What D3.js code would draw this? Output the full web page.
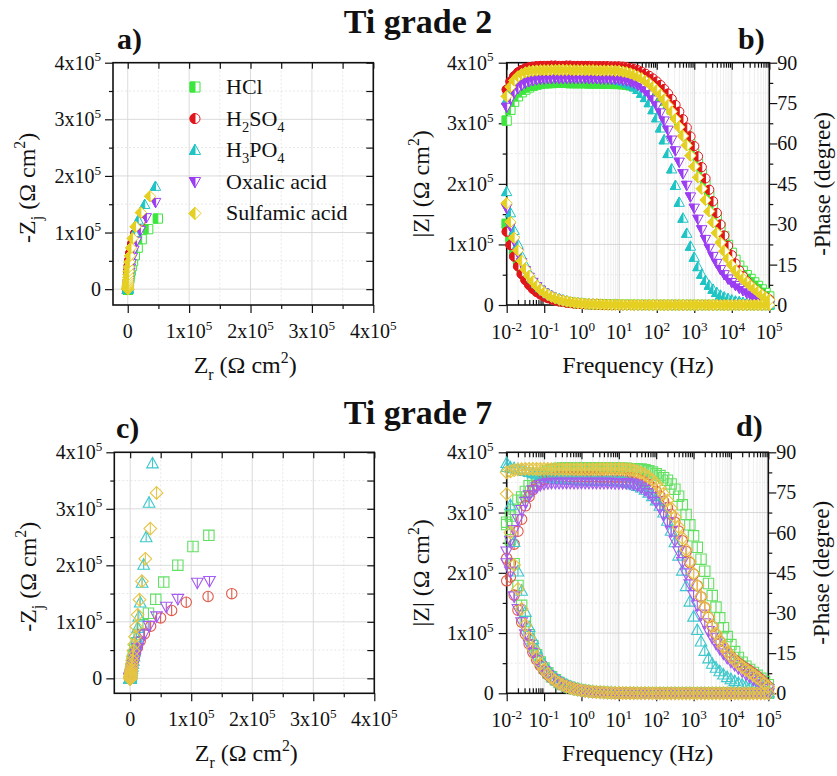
<!DOCTYPE html>
<html><head><meta charset="utf-8">
<script src="https://cdn.jsdelivr.net/npm/d3@7"></script>
<style>body{margin:0;background:#fff}svg{display:block}text{font-family:"Liberation Serif","Times New Roman",serif;fill:#111}</style>
</head><body><svg id="c" width="837" height="776"></svg>
<script>
// ---------------- DATA ----------------
const freq = [0.01,0.0126,0.0158,0.02,0.0251,0.0316,0.0398,0.0501,0.0631,0.0794,
0.1,0.126,0.158,0.2,0.251,0.316,0.398,0.501,0.631,0.794,
1,1.26,1.58,2,2.51,3.16,3.98,5.01,6.31,7.94,
10,12.6,15.8,20,25.1,31.6,39.8,50.1,63.1,79.4,
100,126,158,200,251,316,398,501,631,794,
1000,1259,1585,1995,2512,3162,3981,5012,6310,7943,
10000,12589,15849,19953,25119,31623,39811,50119,63096,79433,
100000];
const seriesNames = ["HCl","H2SO4","H3PO4","Oxalic acid","Sulfamic acid"];
const zTicks = [0,1e5,2e5,3e5,4e5];
const zMinorTicks = [0.5e5,1.5e5,2.5e5,3.5e5];
const phaseTicks = [0,15,30,45,60,75,90];
const phaseMinorTicks = [7.5,22.5,37.5,52.5,67.5,82.5];
const freqTicks = [1e-2,1e-1,1e0,1e1,1e2,1e3,1e4,1e5];

// Ti grade 2 : phase (degree)
const g2Phase_HCl = [68.5,72.5,75.5,77.5,79.0,80.0,80.8,81.4,81.8,82.1,
82.3,82.4,82.4,82.5,82.5,82.5,82.5,82.4,82.4,82.4,
82.4,82.4,82.3,82.3,82.3,82.3,82.2,82.2,82.2,82.1,
82.1,82.0,81.8,81.6,81.3,81.0,80.6,80.1,79.5,78.8,
78.0,77.0,75.8,74.4,72.7,70.7,68.4,65.8,62.9,59.7,
56.2,52.5,48.6,44.6,40.6,36.6,32.7,29.0,25.5,22.3,
19.4,16.8,14.6,12.7,11.1,9.7,8.4,7.1,5.8,4.5,
3.2];
const g2Phase_H2SO4 = [80.0,83.0,85.0,86.4,87.3,87.9,88.3,88.5,88.7,88.8,
88.8,88.8,88.9,88.9,88.8,88.8,88.9,88.9,88.8,88.8,
88.8,88.8,88.8,88.7,88.7,88.7,88.7,88.7,88.6,88.6,
88.6,88.5,88.3,88.0,87.6,87.2,86.6,85.9,85.1,84.1,
83.0,81.7,80.2,78.5,76.5,74.3,71.8,69.0,65.9,62.6,
59.0,55.2,51.2,47.0,42.8,38.5,34.2,29.9,25.8,22.0,
18.5,15.4,12.8,10.6,8.8,7.2,5.9,4.8,3.8,2.9,
2.1];
const g2Phase_H3PO4 = [76.0,79.5,82.0,83.5,84.4,85.0,85.3,85.5,85.6,85.6,
85.7,85.7,85.7,85.7,85.7,85.6,85.6,85.6,85.6,85.5,
85.5,85.4,85.3,85.2,85.1,85.0,84.8,84.5,84.2,83.8,
83.4,83.0,82.4,81.8,81.0,80.0,78.6,77.0,75.1,72.5,
69.5,65.7,61.3,56.2,50.5,44.4,38.1,32.2,26.6,21.8,
17.7,14.2,11.4,9.1,7.3,5.8,4.6,3.6,2.9,2.3,
1.8,1.4,1.2,0.9,0.7,0.6,0.5,0.4,0.3,0.3,
0.2];
const g2Phase_Oxalic = [73.5,76.5,78.8,80.4,81.6,82.4,83.0,83.4,83.7,83.9,
84.0,84.1,84.1,84.2,84.2,84.2,84.2,84.2,84.2,84.2,
84.2,84.2,84.1,84.1,84.1,84.0,84.0,84.0,83.9,83.9,
83.8,83.6,83.3,82.9,82.4,81.7,80.8,79.6,78.1,76.2,
74.0,71.4,68.4,65.0,61.3,57.3,53.1,48.8,44.5,40.2,
36.0,31.9,28.0,24.4,21.1,18.1,15.5,13.2,11.3,9.7,
8.4,7.3,6.3,5.4,4.5,3.7,2.9,2.2,1.5,0.9,
0.4];
const g2Phase_Sulfamic = [77.5,81.0,83.4,84.9,85.8,86.4,86.8,87.0,87.1,87.2,
87.2,87.2,87.3,87.3,87.3,87.3,87.3,87.3,87.2,87.2,
87.2,87.2,87.2,87.2,87.1,87.1,87.1,87.1,87.1,87.0,
87.0,86.7,86.4,86.0,85.5,84.9,84.2,83.3,82.3,81.1,
79.7,78.1,76.3,74.2,71.8,69.1,66.1,62.8,59.3,55.5,
51.5,47.4,43.2,39.0,34.8,30.7,26.8,23.2,20.0,17.2,
14.8,12.8,11.1,9.7,8.4,7.2,6.0,4.9,3.8,2.8,
1.9];

// Ti grade 2 : |Z| (kOhm cm2)
const g2ModZ_HCl = [134,111,91,75,61,50,41,33,27,22,
18.0,14.6,11.8,9.6,7.8,6.3,5.1,4.2,3.4,2.7,
2.2,1.8,1.45,1.18,0.96,0.78,0.63,0.51,0.42,0.34,
0.28,0.23,0.19,0.155,0.127,0.105,0.087,0.073,0.062,0.054,
0.048,0.043,0.04,0.037,0.035,0.033,0.032,0.031,0.03,0.03,
0.03,0.03,0.03,0.03,0.03,0.03,0.03,0.03,0.03,0.03,
0.03,0.03,0.03,0.03,0.03,0.03,0.03,0.03,0.03,0.03,
0.03];
const g2ModZ_H2SO4 = [121,99,80,64,51,41,33,26.5,21.5,17.4,
14.0,11.3,9.2,7.4,6.0,4.9,3.9,3.2,2.6,2.1,
1.7,1.38,1.12,0.9,0.73,0.59,0.48,0.39,0.32,0.26,
0.21,0.17,0.14,0.115,0.095,0.08,0.068,0.058,0.05,0.044,
0.04,0.037,0.034,0.032,0.03,0.029,0.028,0.027,0.026,0.026,
0.025,0.025,0.025,0.025,0.025,0.025,0.025,0.025,0.025,0.025,
0.025,0.025,0.025,0.025,0.025,0.025,0.025,0.025,0.025,0.025,
0.024];
const g2ModZ_H3PO4 = [187,152,123,100,81,66,53,43,35,28.5,
23.0,18.7,15.2,12.3,10.0,8.1,6.6,5.3,4.3,3.5,
2.8,2.3,1.85,1.5,1.22,0.99,0.8,0.65,0.53,0.43,
0.35,0.28,0.23,0.19,0.155,0.127,0.105,0.087,0.073,0.062,
0.054,0.048,0.043,0.04,0.037,0.035,0.033,0.032,0.031,0.03,
0.03,0.03,0.03,0.03,0.03,0.03,0.03,0.03,0.03,0.03,
0.03,0.03,0.03,0.03,0.03,0.03,0.03,0.03,0.03,0.03,
0.03];
const g2ModZ_Oxalic = [160,130,106,86,70,57,46,37.5,30.5,24.7,
20.0,16.2,13.2,10.7,8.7,7.0,5.7,4.6,3.8,3.1,
2.5,2.0,1.63,1.32,1.07,0.87,0.7,0.57,0.46,0.37,
0.3,0.245,0.2,0.16,0.13,0.107,0.088,0.073,0.062,0.053,
0.047,0.042,0.038,0.035,0.033,0.031,0.03,0.029,0.028,0.028,
0.028,0.028,0.028,0.028,0.028,0.028,0.028,0.028,0.028,0.028,
0.028,0.028,0.028,0.028,0.028,0.028,0.028,0.028,0.028,0.028,
0.028];
const g2ModZ_Sulfamic = [168,137,111,90,73,59,48,39,31.5,25.5,
20.7,16.8,13.6,11.0,8.9,7.2,5.9,4.8,3.9,3.1,
2.5,2.05,1.66,1.34,1.09,0.88,0.72,0.58,0.47,0.38,
0.31,0.25,0.2,0.165,0.135,0.11,0.09,0.076,0.065,0.056,
0.05,0.045,0.041,0.038,0.036,0.034,0.033,0.032,0.031,0.03,
0.03,0.03,0.03,0.03,0.03,0.03,0.03,0.03,0.03,0.03,
0.03,0.03,0.03,0.03,0.03,0.03,0.03,0.03,0.03,0.03,
0.03];

// Ti grade 7 : phase (degree)
const g7Phase_HCl = [63.0,66.2,68.7,72.1,73.3,75.4,77.5,79.2,80.6,81.7,
82.5,83.1,83.5,83.8,84.0,84.1,84.2,84.2,84.2,84.2,
84.2,84.2,84.2,84.2,84.2,84.2,84.1,84.1,84.1,84.1,
84.0,84.0,84.0,83.9,83.9,83.8,83.8,83.5,83.1,82.6,
82.0,81.3,80.5,79.6,78.2,76.2,73.6,70.4,66.8,62.9,
58.8,54.5,50.1,45.6,41.0,36.5,32.2,28.2,24.5,21.2,
18.2,15.6,13.4,11.6,10.1,8.9,7.8,6.7,5.6,4.4,
3.2];
const g7Phase_H2SO4 = [42.0,48.6,55.7,60.5,65.0,70.0,73.5,76.0,77.8,79.0,
79.8,80.3,80.6,80.7,80.8,80.8,80.8,80.8,80.8,80.8,
80.8,80.8,80.8,80.8,80.8,80.7,80.7,80.7,80.7,80.7,
80.7,80.7,80.6,80.5,80.4,80.1,79.6,78.9,78.0,76.8,
75.4,73.7,71.7,69.4,66.8,63.9,60.6,57.0,53.0,48.8,
44.5,40.2,36.0,32.0,28.3,25.0,22.0,19.4,17.2,15.3,
13.7,12.4,11.3,10.3,9.4,8.5,7.5,6.4,5.2,3.9,
2.5];
const g7Phase_H3PO4 = [84.5,84.3,84.0,83.7,83.4,83.0,82.6,82.2,81.8,81.4,
81.0,80.7,80.4,80.2,80.0,79.9,79.8,79.7,79.6,79.5,
79.5,79.5,79.4,79.4,79.4,79.3,79.3,79.3,79.3,79.2,
79.2,79.0,78.8,78.4,78.0,77.4,76.8,76.0,74.9,73.6,
72.0,70.0,67.5,64.4,60.7,56.4,51.4,45.8,40.0,34.2,
28.6,23.6,19.3,15.8,13.0,11.0,9.5,8.2,7.0,6.0,
5.2,4.5,3.8,3.2,2.6,2.1,1.7,1.3,1.0,0.7,
0.5];
const g7Phase_Oxalic = [53.0,57.0,61.0,65.0,68.5,71.5,74.0,75.8,77.0,77.8,
78.3,78.5,78.6,78.6,78.6,78.6,78.6,78.6,78.6,78.6,
78.6,78.6,78.6,78.6,78.6,78.6,78.6,78.6,78.6,78.5,
78.5,78.5,78.5,78.4,78.1,77.6,76.9,76.0,74.8,73.3,
71.5,69.3,66.8,63.9,60.6,57.0,53.1,49.0,44.8,40.7,
36.7,32.9,29.4,26.2,23.3,20.8,18.6,16.6,14.9,13.3,
11.9,10.6,9.4,8.3,7.2,6.2,5.2,4.3,3.4,2.5,
1.6];
const g7Phase_Sulfamic = [82.5,82.9,83.3,83.6,83.7,83.8,83.8,83.8,83.8,83.8,
83.8,83.8,83.7,83.7,83.7,83.7,83.7,83.7,83.7,83.7,
83.7,83.7,83.7,83.7,83.7,83.8,83.8,83.8,83.8,83.8,
83.8,83.8,83.7,83.6,83.3,82.9,82.4,81.7,80.8,79.7,
78.3,76.6,74.5,72.0,69.1,65.8,62.1,58.0,53.7,49.2,
44.7,40.3,36.1,32.1,28.5,25.2,22.3,19.7,17.4,15.4,
13.7,12.2,10.9,9.8,8.8,7.8,6.8,5.8,4.7,3.6,
2.4];

// Ti grade 7 : |Z| (kOhm cm2)
const g7ModZ_HCl = [284,255,215,179,146,119,97,79,64,52,
42,34,27.5,22.3,18.0,14.6,11.8,9.6,7.8,6.3,
5.1,4.1,3.3,2.7,2.2,1.8,1.45,1.18,0.96,0.78,
0.63,0.51,0.42,0.34,0.28,0.23,0.19,0.16,0.13,0.11,
0.1,0.09,0.08,0.07,0.065,0.06,0.055,0.05,0.048,0.046,
0.044,0.043,0.042,0.042,0.041,0.041,0.04,0.04,0.04,0.04,
0.04,0.04,0.04,0.04,0.04,0.04,0.04,0.04,0.04,0.04,
0.04];
const g7ModZ_H2SO4 = [224,193,163,138,118,98,82,68,56,46,
38,31,25.5,21,17,14,11.4,9.3,7.6,6.2,
5.0,4.1,3.3,2.7,2.2,1.8,1.45,1.18,0.96,0.78,
0.63,0.51,0.42,0.34,0.28,0.23,0.19,0.16,0.13,0.11,
0.1,0.09,0.08,0.07,0.065,0.06,0.055,0.05,0.048,0.046,
0.044,0.043,0.042,0.042,0.041,0.041,0.04,0.04,0.04,0.04,
0.04,0.04,0.04,0.04,0.04,0.04,0.04,0.04,0.04,0.04,
0.04];
const g7ModZ_H3PO4 = [382,312,251,202,170,135,110,90,73,59,
48,39,31.5,25.5,20.7,16.7,13.6,11.0,8.9,7.2,
5.8,4.7,3.8,3.1,2.5,2.0,1.65,1.34,1.08,0.88,
0.71,0.58,0.47,0.38,0.31,0.25,0.2,0.17,0.14,0.11,
0.09,0.08,0.07,0.065,0.06,0.055,0.05,0.048,0.046,0.045,
0.044,0.043,0.042,0.042,0.041,0.041,0.04,0.04,0.04,0.04,
0.04,0.04,0.04,0.04,0.04,0.04,0.04,0.04,0.04,0.04,
0.04];
const g7ModZ_Oxalic = [216,202,161,140,118,98,81,67,55,45,
37,30,24.5,20,16.3,13.3,10.8,8.8,7.2,5.8,
4.7,3.8,3.1,2.5,2.0,1.65,1.34,1.08,0.88,0.71,
0.58,0.47,0.38,0.31,0.25,0.2,0.17,0.14,0.12,0.1,
0.09,0.08,0.07,0.065,0.06,0.055,0.05,0.048,0.046,0.045,
0.044,0.043,0.042,0.042,0.041,0.041,0.04,0.04,0.04,0.04,
0.04,0.04,0.04,0.04,0.04,0.04,0.04,0.04,0.04,0.04,
0.04];
const g7ModZ_Sulfamic = [331,267,213,173,140,113,92,74,60,49,
39.5,32,26,21,17,13.8,11.2,9.1,7.3,5.9,
4.8,3.9,3.2,2.6,2.1,1.7,1.37,1.11,0.9,0.73,
0.59,0.48,0.39,0.32,0.26,0.21,0.17,0.14,0.12,0.1,
0.09,0.08,0.07,0.065,0.06,0.055,0.05,0.048,0.046,0.045,
0.044,0.043,0.042,0.042,0.041,0.041,0.04,0.04,0.04,0.04,
0.04,0.04,0.04,0.04,0.04,0.04,0.04,0.04,0.04,0.04,
0.04];

const grade2Phase = [g2Phase_HCl,g2Phase_H2SO4,g2Phase_H3PO4,g2Phase_Oxalic,g2Phase_Sulfamic];
const grade2ModZ  = [g2ModZ_HCl,g2ModZ_H2SO4,g2ModZ_H3PO4,g2ModZ_Oxalic,g2ModZ_Sulfamic];
const grade7Phase = [g7Phase_HCl,g7Phase_H2SO4,g7Phase_H3PO4,g7Phase_Oxalic,g7Phase_Sulfamic];
const grade7ModZ  = [g7ModZ_HCl,g7ModZ_H2SO4,g7ModZ_H3PO4,g7ModZ_Oxalic,g7ModZ_Sulfamic];

// ---------------- STYLE ----------------
const shapes = ["square","circle","up","down","diamond"];
const colors2 = ["#3de63d","#e0161b","#1fc4c4","#9b3df2","#e5cf20"];
const colors7 = ["#62e062","#e05a4a","#3ec8cc","#a45cf0","#e6c444"];

const svg = d3.select("#c");

function rich(t, parts, fs){
  let shift = 0;
  parts.forEach(p => {
    const ts = t.append("tspan").text(p.t);
    const target = p.sup ? -0.42*fs : (p.sub ? 0.28*fs : 0);
    const dy = target - shift;
    if (dy !== 0) ts.attr("dy", dy);
    if (p.sup || p.sub) ts.attr("font-size", fs*0.66);
    shift = target;
  });
  return t;
}
function zLabelParts(v){
  if (v === 0) return [{t:"0"}];
  return [{t:(v/1e5)+"x10"},{t:"5",sup:1}];
}

function markerPaths(type, s){
  const a=s*1.18, b=s*0.85, w=s*1.12, d=s*1.22;
  switch(type){
    case "square": return {full:`M${-s},${-s}H${s}V${s}H${-s}Z`, left:`M${-s},${-s}H0V${s}H${-s}Z`, mid:`M0,${-s}V${s}`};
    case "circle": return {full:`M${-s},0A${s},${s} 0 1 0 ${s},0A${s},${s} 0 1 0 ${-s},0Z`, left:`M0,${-s}A${s},${s} 0 0 0 0,${s}Z`, mid:`M0,${-s}V${s}`};
    case "up": return {full:`M0,${-a}L${w},${b}L${-w},${b}Z`, left:`M0,${-a}L0,${b}L${-w},${b}Z`, mid:`M0,${-a}V${b}`};
    case "down": return {full:`M0,${a}L${w},${-b}L${-w},${-b}Z`, left:`M0,${a}L0,${-b}L${-w},${-b}Z`, mid:`M0,${a}V${-b}`};
    default: return {full:`M0,${-d}L${d},0L0,${d}L${-d},0Z`, left:`M0,${-d}L0,${d}L${-d},0Z`, mid:`M0,${-d}V${d}`};
  }
}
function drawMarkers(g, pts, type, color, style, s){
  const p = markerPaths(type, s);
  const m = g.append("g").selectAll("g").data(pts).enter().append("g")
    .attr("transform", d => `translate(${d[0]},${d[1]})`);
  if (style === "half"){
    m.append("path").attr("d", p.full).attr("fill","#fff").attr("stroke",color).attr("stroke-width",1);
    m.append("path").attr("d", p.left).attr("fill",color).attr("stroke",color).attr("stroke-width",1);
  } else {
    m.append("path").attr("d", p.full).attr("fill","none").attr("stroke",color).attr("stroke-width",1.1);
    m.append("path").attr("d", p.mid).attr("fill","none").attr("stroke",color).attr("stroke-width",1.1);
  }
}

function styleAxis(g, sw){
  g.select(".domain").remove();
  g.selectAll(".tick line").attr("stroke","#111").attr("stroke-width",sw||1.2);
  g.selectAll(".tick text").remove();
}

function frame(g, P){
  g.append("rect").attr("x",P.x0).attr("y",P.y0).attr("width",P.x1-P.x0).attr("height",P.y1-P.y0)
    .attr("fill","none").attr("stroke","#111").attr("stroke-width",1.6);
}

// ---------------- NYQUIST PANEL ----------------
function nyquist(P, phases, mods, colors, style, s){
  const g = svg.append("g");
  const x = d3.scaleLinear().domain(P.xdom).range([P.x0,P.x1]);
  const y = d3.scaleLinear().domain(P.ydom).range([P.y1,P.y0]);
  g.append("g").selectAll("line").data(zMinorTicks).enter().append("line")
    .attr("x1",d=>x(d)).attr("x2",d=>x(d)).attr("y1",P.y0).attr("y2",P.y1)
    .attr("stroke","#e2e2e2").attr("stroke-width",0.8).attr("stroke-dasharray","2,2");
  g.append("g").selectAll("line").data(zMinorTicks).enter().append("line")
    .attr("y1",d=>y(d)).attr("y2",d=>y(d)).attr("x1",P.x0).attr("x2",P.x1)
    .attr("stroke","#e2e2e2").attr("stroke-width",0.8).attr("stroke-dasharray","2,2");
  g.append("g").selectAll("line").data(zTicks).enter().append("line")
    .attr("x1",d=>x(d)).attr("x2",d=>x(d)).attr("y1",P.y0).attr("y2",P.y1)
    .attr("stroke","#d6d6d6").attr("stroke-width",0.9);
  g.append("g").selectAll("line").data(zTicks).enter().append("line")
    .attr("y1",d=>y(d)).attr("y2",d=>y(d)).attr("x1",P.x0).attr("x2",P.x1)
    .attr("stroke","#d6d6d6").attr("stroke-width",0.9);
  g.append("g").attr("transform",`translate(0,${P.y1})`).call(d3.axisBottom(x).tickValues(zTicks).tickSize(8).tickFormat("")).call(styleAxis);
  g.append("g").attr("transform",`translate(0,${P.y1})`).call(d3.axisBottom(x).tickValues(zMinorTicks).tickSize(4).tickFormat("")).call(styleAxis);
  g.append("g").attr("transform",`translate(${P.x0},0)`).call(d3.axisLeft(y).tickValues(zTicks).tickSize(8).tickFormat("")).call(styleAxis);
  g.append("g").attr("transform",`translate(${P.x0},0)`).call(d3.axisLeft(y).tickValues(zMinorTicks).tickSize(4).tickFormat("")).call(styleAxis);
  g.append("g").attr("transform",`translate(0,${P.y0})`).call(d3.axisBottom(x).tickValues(zTicks.concat(zMinorTicks)).tickSize(6).tickFormat("")).call(styleAxis);
  g.append("g").attr("transform",`translate(${P.x1},0)`).call(d3.axisLeft(y).tickValues(zTicks.concat(zMinorTicks)).tickSize(7).tickFormat("")).call(styleAxis);
  frame(g, P);
  zTicks.forEach(v => {
    rich(g.append("text").attr("x",x(v)).attr("y",P.y1+33).attr("text-anchor","middle").attr("font-size",20), zLabelParts(v), 20);
    rich(g.append("text").attr("x",P.x0-12).attr("y",y(v)+7).attr("text-anchor","end").attr("font-size",20), zLabelParts(v), 20);
  });
  rich(g.append("text").attr("x",(P.x0+P.x1)/2+2).attr("y",P.y1+68).attr("text-anchor","middle").attr("font-size",24),
    [{t:"Z"},{t:"r",sub:1},{t:" (Ω cm"},{t:"2",sup:1},{t:")"}], 24);
  rich(g.append("text").attr("transform",`translate(${P.x0-86},${(P.y0+P.y1)/2+4}) rotate(-90)`).attr("y",8).attr("text-anchor","middle").attr("font-size",24),
    [{t:"-Z"},{t:"j",sub:1},{t:" (Ω cm"},{t:"2",sup:1},{t:")"}], 24);
  phases.forEach((ph, i) => {
    const n = Math.min(ph.length, mods[i].length, freq.length);
    const pts = [];
    for (let k = n-1; k >= 0; k--){
      const m = mods[i][k]*1000, r = ph[k]*Math.PI/180;
      pts.push([x(m*Math.cos(r)), y(m*Math.sin(r))]);
    }
    drawMarkers(g, pts, shapes[i], colors[i], style, s);
  });
  return g;
}

// ---------------- BODE PANEL ----------------
function bode(P, phases, mods, colors, style, s){
  const g = svg.append("g");
  const x = d3.scaleLog().domain([1e-2,1e5]).range([P.x0,P.x1]);
  const yL = d3.scaleLinear().domain([0,4e5]).range([P.y1,P.y0]);
  const yR = d3.scaleLinear().domain([0,90]).range([P.y1,P.y0]);
  const minorF = [];
  freqTicks.slice(0,-1).forEach(f => { for (let k=2;k<=9;k++) minorF.push(f*k); });
  g.append("g").selectAll("line").data(minorF).enter().append("line")
    .attr("x1",d=>x(d)).attr("x2",d=>x(d)).attr("y1",P.y0).attr("y2",P.y1)
    .attr("stroke","#e6e6e6").attr("stroke-width",0.7);
  g.append("g").selectAll("line").data(zMinorTicks).enter().append("line")
    .attr("y1",d=>yL(d)).attr("y2",d=>yL(d)).attr("x1",P.x0).attr("x2",P.x1)
    .attr("stroke","#e4e4e4").attr("stroke-width",0.8).attr("stroke-dasharray","2,2");
  g.append("g").selectAll("line").data(freqTicks).enter().append("line")
    .attr("x1",d=>x(d)).attr("x2",d=>x(d)).attr("y1",P.y0).attr("y2",P.y1)
    .attr("stroke","#d2d2d2").attr("stroke-width",0.9);
  g.append("g").selectAll("line").data(zTicks).enter().append("line")
    .attr("y1",d=>yL(d)).attr("y2",d=>yL(d)).attr("x1",P.x0).attr("x2",P.x1)
    .attr("stroke","#d2d2d2").attr("stroke-width",0.9);
  g.append("g").attr("transform",`translate(0,${P.y1})`).call(d3.axisBottom(x).tickValues(freqTicks).tickSize(8).tickFormat("")).call(styleAxis);
  g.append("g").attr("transform",`translate(0,${P.y1})`).call(d3.axisTop(x).tickValues(minorF).tickSize(5).tickFormat("")).call(styleAxis);
  g.append("g").attr("transform",`translate(0,${P.y0})`).call(d3.axisBottom(x).tickValues(freqTicks).tickSize(7).tickFormat("")).call(styleAxis);
  g.append("g").attr("transform",`translate(0,${P.y0})`).call(d3.axisBottom(x).tickValues(minorF).tickSize(5).tickFormat("")).call(styleAxis);
  g.append("g").attr("transform",`translate(${P.x0},0)`).call(d3.axisLeft(yL).tickValues(zTicks).tickSize(8).tickFormat("")).call(styleAxis);
  g.append("g").attr("transform",`translate(${P.x0},0)`).call(d3.axisLeft(yL).tickValues(zMinorTicks).tickSize(4).tickFormat("")).call(styleAxis);
  g.append("g").attr("transform",`translate(${P.x1},0)`).call(d3.axisRight(yR).tickValues(phaseTicks).tickSize(8).tickFormat("")).call(styleAxis);
  g.append("g").attr("transform",`translate(${P.x1},0)`).call(d3.axisRight(yR).tickValues(phaseMinorTicks).tickSize(4).tickFormat("")).call(styleAxis);
  frame(g, P);
  freqTicks.forEach(f => {
    rich(g.append("text").attr("x",x(f)).attr("y",P.y1+34).attr("text-anchor","middle").attr("font-size",20),
      [{t:"10"},{t:String(Math.round(Math.log10(f))),sup:1}], 20);
  });
  zTicks.forEach(v => {
    rich(g.append("text").attr("x",P.x0-13).attr("y",yL(v)+7).attr("text-anchor","end").attr("font-size",20), zLabelParts(v), 20);
  });
  phaseTicks.forEach(v => {
    g.append("text").attr("x",P.x1+8).attr("y",yR(v)+7).attr("font-size",20).text(v);
  });
  g.append("text").attr("x",(P.x0+P.x1)/2).attr("y",P.y1+68).attr("text-anchor","middle").attr("font-size",24).text("Frequency (Hz)");
  rich(g.append("text").attr("transform",`translate(${P.x0-86},${(P.y0+P.y1)/2}) rotate(-90)`).attr("y",8).attr("text-anchor","middle").attr("font-size",24),
    [{t:"|Z| (Ω cm"},{t:"2",sup:1},{t:")"}], 24);
  g.append("text").attr("transform",`translate(${P.x1+53},${(P.y0+P.y1)/2}) rotate(-90)`).attr("y",8).attr("text-anchor","middle").attr("font-size",23).text("-Phase (degree)");
  phases.forEach((ph, i) => {
    const n = Math.min(ph.length, mods[i].length, freq.length);
    const ptsZ = [], ptsP = [];
    for (let k=0;k<n;k++){
      ptsZ.push([x(freq[k]), yL(mods[i][k]*1000)]);
      ptsP.push([x(freq[k]), yR(ph[k])]);
    }
    drawMarkers(g, ptsZ, shapes[i], colors[i], style, s);
    drawMarkers(g, ptsP, shapes[i], colors[i], style, s);
  });
}

// ---------------- LAYOUT ----------------
const PA = {x0:113, x1:373.3, y0:62.7, y1:305, xdom:[-0.24e5,4e5], ydom:[-0.28e5,4e5]};
const PB = {x0:506.7, x1:769.3, y0:62.7, y1:305};
const PC = {x0:114.3, x1:374.3, y0:452.3, y1:693.3, xdom:[-0.26e5,4e5], ydom:[-0.265e5,4e5]};
const PD = {x0:506.7, x1:768.3, y0:452.3, y1:693.3};

nyquist(PA, grade2Phase, grade2ModZ, colors2, "half", 4.6);
bode(PB, grade2Phase, grade2ModZ, colors2, "half", 4.6);
nyquist(PC, grade7Phase, grade7ModZ, colors7, "open", 5.2);
bode(PD, grade7Phase, grade7ModZ, colors7, "open", 5.2);

// legend (panel a)
const legendParts = [
  [{t:"HCl"}],
  [{t:"H"},{t:"2",sub:1},{t:"SO"},{t:"4",sub:1}],
  [{t:"H"},{t:"3",sub:1},{t:"PO"},{t:"4",sub:1}],
  [{t:"Oxalic acid"}],
  [{t:"Sulfamic acid"}]
];
const lg = svg.append("g");
seriesNames.forEach((nm, i) => {
  const yy = 87 + i*31.6;
  drawMarkers(lg, [[195, yy]], shapes[i], colors2[i], "half", 5);
  rich(lg.append("text").attr("x",226).attr("y",yy+7).attr("font-size",22), legendParts[i], 22);
});

// titles
svg.append("text").attr("x",418).attr("y",33).attr("text-anchor","middle").attr("font-size",34).attr("font-weight","bold").text("Ti grade 2");
svg.append("text").attr("x",418).attr("y",424).attr("text-anchor","middle").attr("font-size",34).attr("font-weight","bold").text("Ti grade 7");
[["a)",117,49],["b)",738,49],["c)",116,438],["d)",736,436]].forEach(l => {
  svg.append("text").attr("x",l[1]).attr("y",l[2]).attr("font-size",30).attr("font-weight","bold").text(l[0]);
});
</script></body></html>
